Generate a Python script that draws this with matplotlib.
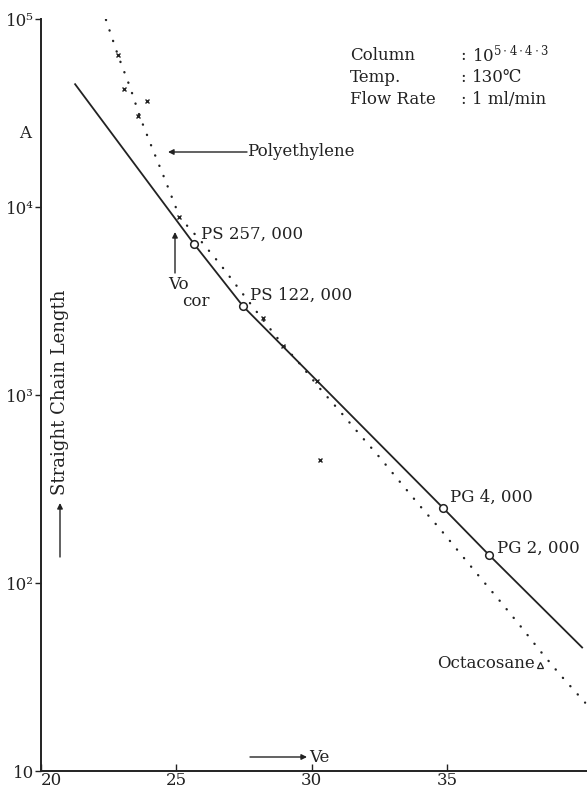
import matplotlib.pyplot as plt

plt.rcParams['font.family'] = ['DejaVu Serif', 'DejaVu Sans']
plt.rcParams['mathtext.fontset'] = 'dejavuserif'

# polyethylene calibration curve (dotted), Ve in ml vs straight chain length in A
pe_ve = [22.40, 22.84, 23.29, 23.66, 24.10, 24.58, 25.13, 25.87, 26.61, 27.35,
         28.09, 28.83, 29.57, 30.31, 31.05, 31.78, 32.52, 33.26, 34.00, 34.74,
         35.48, 36.22, 36.96, 37.69, 38.43, 39.17, 40.10]
pe_len = [99000, 64300, 43400, 30000, 20700, 14000, 8770, 6690, 4980, 3610,
          2630, 1930, 1460, 1080, 817, 615, 464, 345, 257, 194,
          144, 107, 80, 59.5, 43.7, 32.6, 23.1]

# measured polyethylene points (x marks)
pe_pt_ve = [22.83, 23.07, 23.90, 23.59, 25.10, 28.20, 28.94, 30.20, 30.30]
pe_pt_len = [64400, 42500, 36800, 30600, 8800, 2570, 1815, 1180, 450]

# standards line (solid)
std_line_ve = [21.26, 25.65, 27.46, 34.85, 36.55, 39.99]
std_line_len = [45000, 6370, 2970, 251, 141, 45.4]

# standard points (open circles)
std_names = ["PS 257, 000", "PS 122, 000", "PG 4, 000", "PG 2, 000"]
std_ve = [25.65, 27.46, 34.85, 36.55]
std_len = [6370, 2970, 251, 141]

oct_ve = [38.43]
oct_len = [36.8]

ink = '#222222'
W, H = 587, 790


def fpos(px, py):
    return px / W, 1 - py / H


fig = plt.figure(figsize=(5.87, 7.90), dpi=100)
ax = fig.add_axes([41 / W, 19 / H, 546 / W, 752 / H])

ax.plot(pe_ve, pe_len, linestyle=(0, (0.1, 4.6)), lw=1.7, color=ink,
        dash_capstyle='round')
ax.plot(pe_pt_ve, pe_pt_len, 'x', ms=3.5, mew=1.0, color=ink)
ax.plot(std_line_ve, std_line_len, '-', lw=1.3, color=ink)
ax.plot(std_ve, std_len, 'o', ms=5.5, mfc='white', mec=ink, mew=1.1)
ax.plot(oct_ve, oct_len, '^', ms=4.5, mfc='white', mec=ink, mew=0.9)

ax.set_yscale('log')
ax.set_ylim(10, 1e5)
ax.set_xlim(20, 40.17)

ax.set_xticks([20, 25, 30, 35])
ax.set_xticklabels(['20', '25', '30', '35'])
ax.set_yticks([10, 1e2, 1e3, 1e4, 1e5])
ax.set_yticklabels(['10', '10²', '10³', '10⁴', '10⁵'])
ax.minorticks_off()
ax.tick_params(axis='x', direction='in', length=5, width=1, pad=1,
               labelsize=12, colors=ink)
ax.tick_params(axis='y', direction='out', length=4, width=1, pad=1,
               labelsize=12, colors=ink)
ax.get_xticklabels()[0].set_horizontalalignment('left')

for side in ['top', 'right']:
    ax.spines[side].set_visible(False)
for side in ['left', 'bottom']:
    ax.spines[side].set_linewidth(1.4)
    ax.spines[side].set_color(ink)

# condition block
rows = [("Column", r"$\mathregular{10^{5\cdot4\cdot4\cdot3}}$"),
        ("Temp.", "130℃"),
        ("Flow Rate", "1 ml/min")]
for i, (k, v) in enumerate(rows):
    y = 55 + i * 22.5
    fig.text(*fpos(350, y), k, fontsize=12, va='center', ha='left', color=ink)
    fig.text(*fpos(460, y), ":", fontsize=12, va='center', ha='left', color=ink)
    fig.text(*fpos(472, y), v, fontsize=12, va='center', ha='left', color=ink)

fig.text(*fpos(25, 133), "A", fontsize=12, va='center', ha='center', color=ink)

# point labels
label_pos = [(201, 234), (250, 295), (450, 497), (497, 548)]
for name, (px, py) in zip(std_names, label_pos):
    fig.text(*fpos(px, py), name, fontsize=12, va='center', ha='left', color=ink)
fig.text(*fpos(535, 664), "Octacosane", fontsize=12, va='center', ha='right',
         color=ink)

arrow = dict(arrowstyle='-|>', lw=1.0, color=ink, mutation_scale=8,
             shrinkA=0, shrinkB=0)

# Polyethylene
ax.annotate('', xy=fpos(168, 152), xytext=fpos(247, 152),
            xycoords='figure fraction', textcoords='figure fraction',
            arrowprops=arrow)
fig.text(*fpos(247, 152), "Polyethylene", fontsize=12, va='center', ha='left',
         color=ink)

# Vo cor
ax.annotate('', xy=fpos(175, 232), xytext=fpos(175, 273),
            xycoords='figure fraction', textcoords='figure fraction',
            arrowprops=arrow)
fig.text(*fpos(168, 285), "Vo", fontsize=12, va='center', ha='left', color=ink)
fig.text(*fpos(182, 301), "cor", fontsize=12, va='center', ha='left', color=ink)

# y axis title
ax.annotate('', xy=fpos(60, 503), xytext=fpos(60, 557),
            xycoords='figure fraction', textcoords='figure fraction',
            arrowprops=arrow)
fig.text(*fpos(60, 392), "Straight Chain Length", fontsize=13, rotation=90,
         va='center', ha='center', color=ink)

# x axis title
ax.annotate('', xy=fpos(307, 757), xytext=fpos(250, 757),
            xycoords='figure fraction', textcoords='figure fraction',
            arrowprops=arrow)
fig.text(*fpos(309, 757), "Ve", fontsize=12, va='center', ha='left', color=ink)

fig.savefig('out.png', dpi=100)
